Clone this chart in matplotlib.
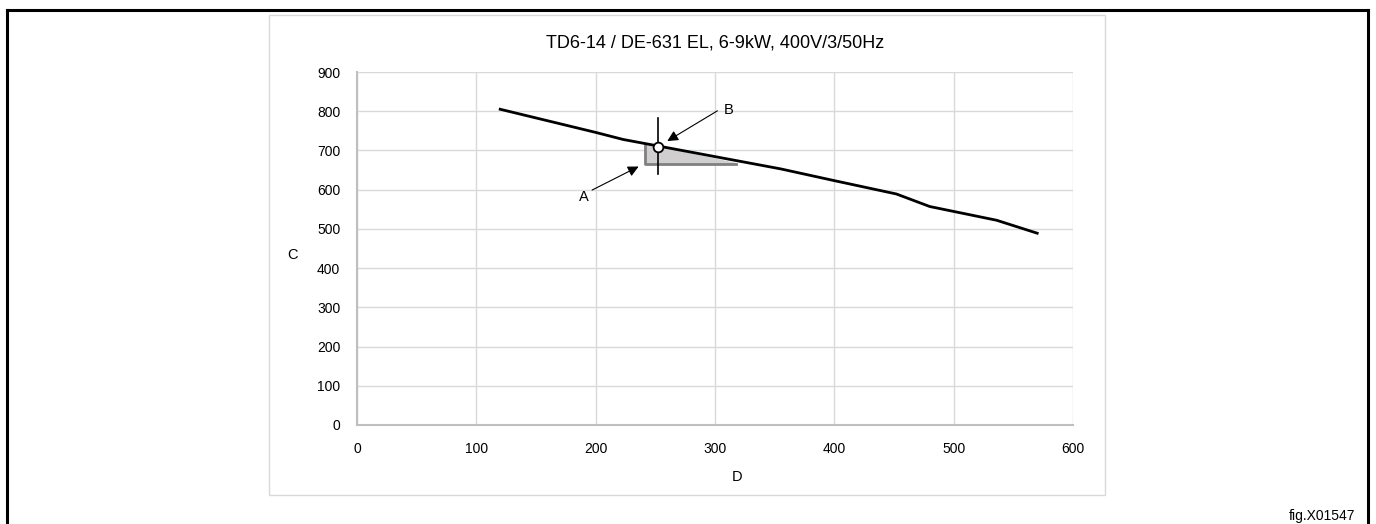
import matplotlib
matplotlib.use("Agg")
import matplotlib.pyplot as plt
from matplotlib.lines import Line2D
from matplotlib.patches import Rectangle

# curve
flow = [120, 200, 223, 253, 355, 400, 452, 480, 536, 570]
pressure = [805, 746, 728, 711, 653, 623, 589, 557, 522, 489]

# working point B and the tolerance area
op_flow = [252.6]
op_pressure = [710]
area_flow = [241, 241, 318, 241]
area_pressure = [716, 665, 665, 716]
area_top_flow = [241, 253, 318]
area_top_pressure = [716, 710, 668]

x_ticks = [0, 100, 200, 300, 400, 500, 600]
y_ticks = [0, 100, 200, 300, 400, 500, 600, 700, 800, 900]

title = "TD6-14 / DE-631 EL, 6-9kW, 400V/3/50Hz"
narrow = ["Liberation Sans Narrow", "Liberation Sans", "DejaVu Sans"]

fig = plt.figure(figsize=(13.76, 5.24), dpi=100)
W, H = 1376, 524

# outer black frame (top, left, right)
fig.add_artist(Line2D([7 / W, 1368 / W], [1 - 10 / H, 1 - 10 / H], color="black", lw=2.2))
fig.add_artist(Line2D([7 / W, 7 / W], [0, 1 - 10 / H], color="black", lw=2.2))
fig.add_artist(Line2D([1368 / W, 1368 / W], [0, 1 - 10 / H], color="black", lw=2.2))

# chart box
fig.add_artist(Rectangle((269 / W, 1 - 495 / H), (1105 - 269) / W, (495 - 15) / H,
                         fill=False, edgecolor="#d9d9d9", lw=1.0))

ax = fig.add_axes([357 / W, 1 - 425 / H, (1073 - 357) / W, (425 - 72) / H])
ax.set_xlim(0, 600)
ax.set_ylim(0, 900)
ax.set_xticks(x_ticks)
ax.set_yticks(y_ticks)
ax.grid(True, color="#d9d9d9", lw=1.0)
ax.set_axisbelow(True)
for s in ["top", "right"]:
    ax.spines[s].set_visible(False)
for s in ["left", "bottom"]:
    ax.spines[s].set_color("#bfbfbf")
    ax.spines[s].set_linewidth(1.5)
ax.tick_params(length=0, labelsize=10, pad=12, colors="black")
for lab in ax.get_xticklabels() + ax.get_yticklabels():
    lab.set_family(narrow)

ax.fill(area_flow[:3] + area_top_flow[::-1], area_pressure[:3] + area_top_pressure[::-1],
        color="#d0cece", lw=0, zorder=2)
ax.plot(area_flow[:3], area_pressure[:3], color="#808080", lw=2.0, zorder=3)

ax.plot(flow, pressure, color="black", lw=2.0, zorder=4)

ax.plot([op_flow[0], op_flow[0]], [639, 782], color="black", lw=1.2, zorder=5)
ax.plot(op_flow, op_pressure, "o", ms=7, mfc="white", mec="black", mew=1.3, zorder=6)

arrow = dict(arrowstyle="-|>", lw=0.8, color="black", mutation_scale=16, shrinkA=0, shrinkB=0)
ax.annotate("", xy=(260, 724), xytext=(302, 801), arrowprops=arrow, zorder=7)
ax.text(307, 803, "B", fontsize=10.5, family=narrow, va="center", ha="left")
ax.annotate("", xy=(236, 659), xytext=(197, 599), arrowprops=arrow, zorder=7)
ax.text(190, 582, "A", fontsize=10.5, family=narrow, va="center", ha="center")

fig.text(715 / W, 1 - 43 / H, title, fontsize=13, family=narrow, ha="center", va="center")
fig.text(293 / W, 1 - 255 / H, "C", fontsize=10.5, family=narrow, ha="center", va="center")
fig.text(737 / W, 1 - 477 / H, "D", fontsize=10.5, family=narrow, ha="center", va="center")
fig.text(1355 / W, 1 - 516 / H, "fig.X01547", fontsize=10, family=["Liberation Sans", "DejaVu Sans"],
         ha="right", va="center")

fig.savefig("out.png", dpi=100)
